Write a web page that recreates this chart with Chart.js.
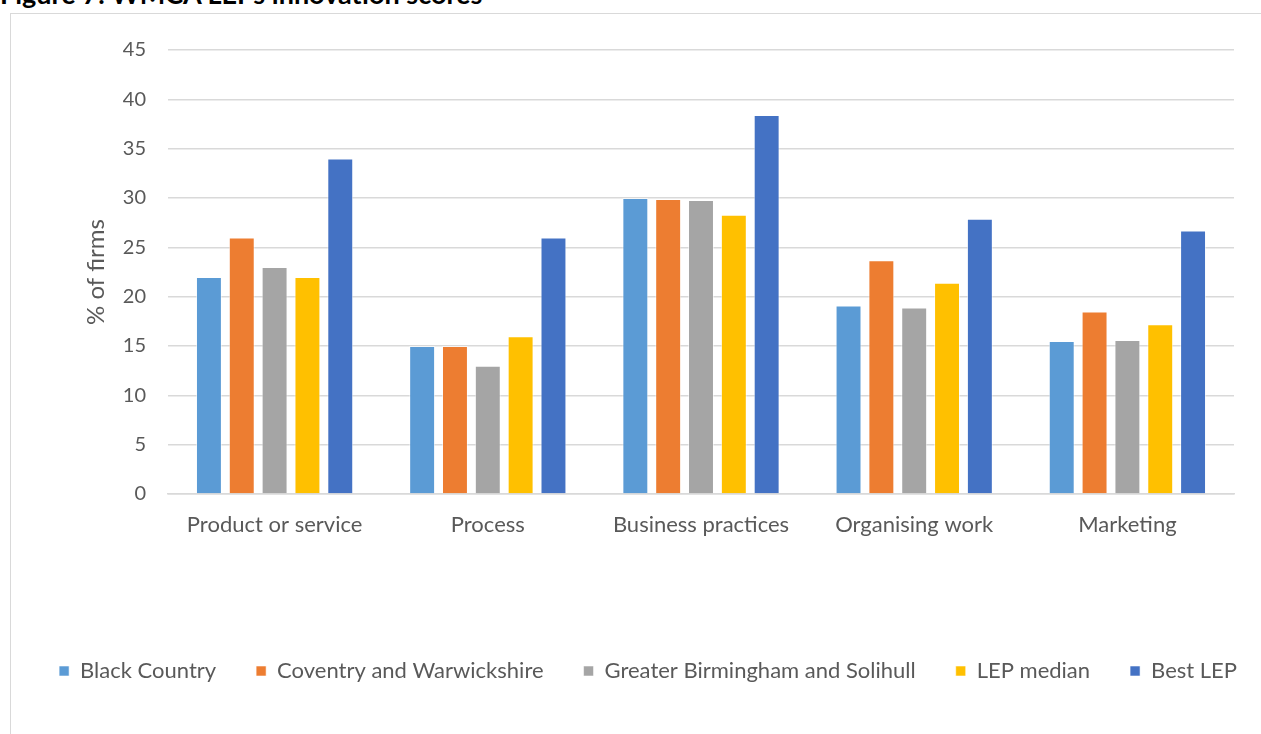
<!DOCTYPE html>
<html>
<head>
<meta charset="utf-8">
<script src="https://cdn.jsdelivr.net/npm/chart.js@4/dist/chart.umd.min.js"></script>
<style>
  html, body { margin: 0; padding: 0; background: #fff; overflow: hidden; }
  #page { position: relative; width: 1261px; height: 734px; overflow: hidden; }
  #heading {
    position: absolute; left: 0; top: -20px; line-height: 27px;
    font-family: Lato, "Liberation Sans", sans-serif; font-weight: bold;
    font-size: 27px; color: #000; white-space: nowrap;
  }
  #frame {
    position: absolute; left: 10px; top: 13px; width: 1300px; height: 800px;
    border: 1px solid #d9d9d9; box-sizing: border-box;
  }
  #wrap { position: absolute; left: 0; top: 0; width: 1277px; height: 734px; }
</style>
</head>
<body>
<div id="page">
  <div id="heading">Figure 7: WMCA LEPs innovation scores</div>
  <div id="frame"></div>
  <div id="wrap"><canvas id="innovationChart"></canvas></div>
</div>
<script>
// innovation types along the x axis
const categories = ['Product or service', 'Process', 'Business practices', 'Organising work', 'Marketing'];

// share of firms (%) per LEP, one array per series
const blackCountry = [22, 15, 30, 19.1, 15.5];
const coventryWarwickshire = [26, 15, 29.9, 23.7, 18.5];
const greaterBirmingham = [23, 13, 29.8, 18.9, 15.6];
const lepMedian = [22, 16, 28.3, 21.4, 17.2];
const bestLep = [34, 26, 38.4, 27.9, 26.7];

const seriesNames = ['Black Country', 'Coventry and Warwickshire', 'Greater Birmingham and Solihull', 'LEP median', 'Best LEP'];
const seriesColors = ['#5b9bd5', '#ed7d31', '#a5a5a5', '#ffc000', '#4472c4'];

const yTicks = [0, 5, 10, 15, 20, 25, 30, 35, 40, 45];

const font = 'Lato, "Liberation Sans", sans-serif';
const textGrey = '#595959';

const seriesValues = [blackCountry, coventryWarwickshire, greaterBirmingham, lepMedian, bestLep];

const ctx = document.getElementById('innovationChart').getContext('2d');
new Chart(ctx, {
    type: 'bar',
    data: {
        labels: categories,
        datasets: seriesNames.map((name, i) => ({
            label: name,
            data: seriesValues[i],
            backgroundColor: seriesColors[i],
            borderColor: 'rgba(255,255,255,0.55)',
            borderWidth: 1,
            categoryPercentage: 0.77,
            barPercentage: 0.79
        }))
    },
    options: {
        responsive: true,
        maintainAspectRatio: false,
        animation: false,
        layout: { padding: { top: 50, right: 0, left: 0, bottom: 42 } },
        scales: {
            x: {
                grid: { display: false, drawTicks: false },
                border: { display: true, color: '#d9d9d9', width: 1.5 },
                ticks: { color: textGrey, font: { family: font, size: 22 }, padding: 18 },
                afterFit: scale => { scale.height = 126; }
            },
            y: {
                min: 0,
                max: 45,
                afterBuildTicks: scale => { scale.ticks = yTicks.map(v => ({ value: v })); },
                grid: { color: '#d9d9d9', lineWidth: 1.5, drawTicks: false },
                border: { display: false },
                ticks: { color: textGrey, font: { family: font, size: 20 }, padding: 22 },
                title: {
                    display: true,
                    text: '% of firms',
                    color: textGrey,
                    font: { family: font, size: 24 },
                    padding: { top: 82, bottom: 0 }
                },
                afterFit: scale => { scale.width = 168; }
            },
            // empty axis that keeps a margin right of the plot
            yRight: {
                position: 'right',
                grid: { display: false, drawTicks: false },
                border: { display: false },
                ticks: { display: false },
                afterFit: scale => { scale.width = 43; }
            }
        },
        plugins: {
            legend: {
                position: 'bottom',
                align: 'end',
                labels: {
                    color: textGrey,
                    font: { family: font, size: 22 },
                    boxWidth: 10,
                    boxHeight: 10,
                    padding: 40
                }
            },
            tooltip: { enabled: false }
        }
    }
});
</script>
</body>
</html>
